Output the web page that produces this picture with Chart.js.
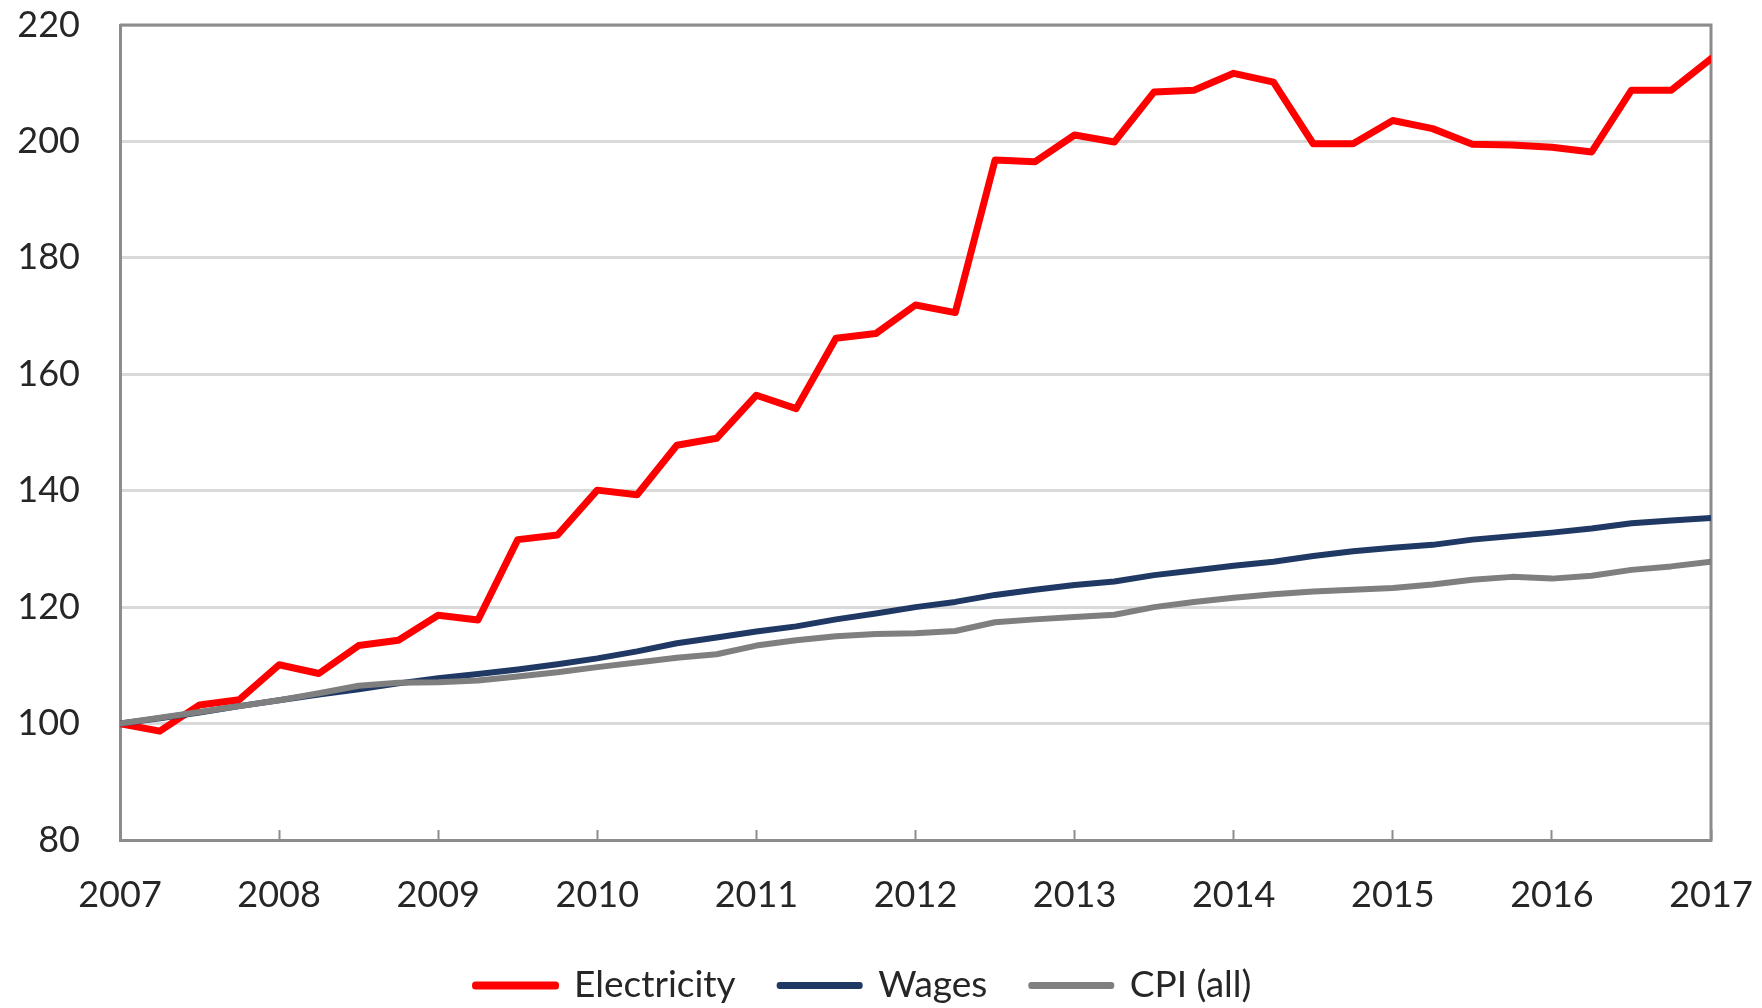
<!DOCTYPE html>
<html>
<head>
<meta charset="utf-8">
<script src="https://cdn.jsdelivr.net/npm/chart.js@4.4.0/dist/chart.umd.min.js"></script>
<style>
  html, body { margin: 0; padding: 0; background: #ffffff; }
  #wrap { width: 1762px; height: 1008px; position: relative; }
</style>
</head>
<body>
<div id="wrap"><canvas id="c"></canvas></div>
<script>
// ---- data (quarterly index, 2007 Q1 = 100) ----
const years = [2007, 2008, 2009, 2010, 2011, 2012, 2013, 2014, 2015, 2016, 2017];
const quarterLabels = [];
years.forEach((y, i) => {
  const n = i === years.length - 1 ? 1 : 4;
  for (let q = 1; q <= n; q++) quarterLabels.push(y + ' Q' + q);
});
const seriesNames = ['Electricity', 'Wages', 'CPI (all)'];
const electricity = [
  100, 98.7, 103.2, 104.1,
  110.1, 108.6, 113.4, 114.3,
  118.6, 117.8, 131.6, 132.4,
  140.1, 139.3, 147.8, 149.0,
  156.4, 154.1, 166.2, 167.0,
  171.9, 170.6, 196.8, 196.5,
  201.1, 199.9, 208.5, 208.8,
  211.7, 210.2, 199.6, 199.6,
  203.6, 202.2, 199.5, 199.4,
  199.0, 198.2, 208.8, 208.8,
  214.2
];
const wages = [
  100, 100.9, 101.9, 103.0,
  104.0, 105.0, 105.9, 106.9,
  107.8, 108.5, 109.3, 110.2,
  111.2, 112.4, 113.8, 114.8,
  115.8, 116.7, 117.9, 118.9,
  120.0, 120.9, 122.1, 123.0,
  123.8, 124.4, 125.5, 126.3,
  127.1, 127.8, 128.8, 129.6,
  130.2, 130.7, 131.6, 132.2,
  132.8, 133.5, 134.4, 134.9,
  135.3
];
const cpi = [
  100, 101.0, 102.0, 103.0,
  104.0, 105.2, 106.5, 107.0,
  107.1, 107.4, 108.1, 108.8,
  109.7, 110.5, 111.3, 111.9,
  113.4, 114.3, 115.0, 115.4,
  115.5, 115.9, 117.4, 117.9,
  118.3, 118.7, 120.0, 120.9,
  121.6, 122.2, 122.7, 123.0,
  123.3, 123.9, 124.7, 125.2,
  124.9, 125.4, 126.4, 127.0,
  127.8
];
const yTicks = [80, 100, 120, 140, 160, 180, 200, 220];

// x position of each quarter (years as decimal)
const xPos = quarterLabels.map(l => {
  const [y, q] = l.split(' Q');
  return Number(y) + (Number(q) - 1) / 4;
});
const toPoints = arr => arr.map((v, i) => ({ x: xPos[i], y: v }));

const FRAME = '#8c8c8c';
const TEXT = '#262626';
const FONT = 'Lato, "Open Sans", sans-serif';

const frame = {
  id: 'frame',
  beforeDatasetsDraw(chart) {
    const a = chart.chartArea, ctx = chart.ctx;
    ctx.save();
    ctx.strokeStyle = FRAME;
    ctx.lineWidth = 3;
    ctx.beginPath();
    ctx.moveTo(a.left, a.top);
    ctx.lineTo(a.right, a.top);
    ctx.lineTo(a.right, a.bottom);
    ctx.stroke();
    ctx.restore();
  }
};

new Chart(document.getElementById('c'), {
  type: 'line',
  data: {
    datasets: [
      { label: seriesNames[0], data: toPoints(electricity), borderColor: '#ff0000', backgroundColor: '#ff0000', borderWidth: 7, order: 2 },
      { label: seriesNames[1], data: toPoints(wages), borderColor: '#1f3864', backgroundColor: '#1f3864', borderWidth: 6, order: 1 },
      { label: seriesNames[2], data: toPoints(cpi), borderColor: '#7f7f7f', backgroundColor: '#7f7f7f', borderWidth: 6, order: 0 }
    ]
  },
  options: {
    responsive: true,
    maintainAspectRatio: false,
    animation: false,
    layout: { padding: { left: 16, right: 51, top: 25, bottom: 0 } },
    elements: {
      point: { radius: 0, hoverRadius: 0 },
      line: { tension: 0, borderJoinStyle: 'round', borderCapStyle: 'round' }
    },
    plugins: {
      tooltip: { enabled: false },
      legend: {
        position: 'bottom',
        maxHeight: 85,
        labels: {
          boxWidth: 80,
          boxHeight: 1,
          padding: 44,
          color: TEXT,
          font: { family: FONT, size: 37 },
          sort: (a, b) => a.datasetIndex - b.datasetIndex
        }
      }
    },
    scales: {
      x: {
        type: 'linear',
        min: years[0],
        max: years[years.length - 1],
        afterBuildTicks: s => { s.ticks = years.map(v => ({ value: v })); },
        afterFit: s => { s.height = 83; s.paddingLeft = 0; s.paddingRight = 0; },
        ticks: {
          callback: v => String(v),
          color: TEXT,
          padding: 44,
          font: { family: FONT, size: 36 },
          maxRotation: 0,
          autoSkip: false
        },
        grid: { drawOnChartArea: false, drawTicks: true, tickLength: -10, tickColor: FRAME, tickWidth: 2 },
        border: { color: FRAME, width: 3 }
      },
      y: {
        min: yTicks[0],
        max: yTicks[yTicks.length - 1],
        afterBuildTicks: s => { s.ticks = yTicks.map(v => ({ value: v })); },
        afterFit: s => { s.width = 104; s.paddingTop = 0; s.paddingBottom = 0; },
        ticks: {
          color: TEXT,
          padding: 40,
          font: { family: FONT, size: 36 }
        },
        grid: { color: '#d9d9d9', lineWidth: 3, drawTicks: false },
        border: { color: FRAME, width: 3 }
      }
    }
  },
  plugins: [frame]
});
</script>
</body>
</html>
